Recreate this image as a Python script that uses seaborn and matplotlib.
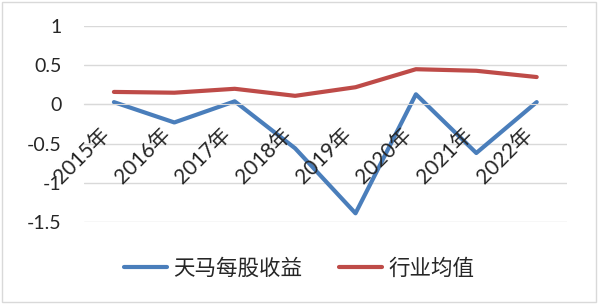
import pandas as pd
import seaborn as sns
import matplotlib.pyplot as plt
from matplotlib.patches import Rectangle

years = ["2015年", "2016年", "2017年", "2018年", "2019年", "2020年", "2021年", "2022年"]
tianma_eps = [0.03, -0.23, 0.04, -0.56, -1.39, 0.13, -0.62, 0.03]
industry_avg = [0.16, 0.15, 0.20, 0.11, 0.22, 0.45, 0.43, 0.35]
series_names = ["天马每股收益", "行业均值"]

df = pd.DataFrame({
    "year": years * 2,
    "value": tianma_eps + industry_avg,
    "series": [series_names[0]] * len(years) + [series_names[1]] * len(years),
})

sns.set_style("white")
plt.rcParams['font.family'] = ['Lato', 'Noto Sans CJK SC', 'DejaVu Sans']

fig = plt.figure(figsize=(5.98, 3.04), dpi=100)
ax = fig.add_axes([0.14, 0.27, 0.808, 0.644])

sns.lineplot(data=df, x="year", y="value", hue="series", sort=False,
             palette=["#4A7EBB", "#BE4B48"], linewidth=3, ax=ax, legend=False)

ax.set_ylim(-1.5, 1)
ax.set_xlim(-0.5, len(years) - 0.5)
ax.set_yticks([1, 0.5, 0, -0.5, -1, -1.5])
ax.set_yticklabels(["1", "0.5", "0", "-0.5", "-1", "-1.5"], fontsize=14)
ax.yaxis.grid(True, color="#D9D9D9", linewidth=1)
ax.set_axisbelow(True)
ax.xaxis.set_zorder(3)  # year labels sit on top of the lines
for s in ["top", "right", "left"]:
    ax.spines[s].set_visible(False)
ax.spines["bottom"].set_position(("data", 0))
ax.spines["bottom"].set_color("#D9D9D9")
ax.tick_params(axis="y", length=0, pad=16)
ax.tick_params(axis="x", length=0, pad=14)
ax.set_xticks(range(len(years)))
ax.set_xticklabels(years, rotation=45, ha="right", va="top", fontsize=15)
ax.set_xlabel("")
ax.set_ylabel("")

handles = [plt.Line2D([], [], color="#4A7EBB", linewidth=3),
           plt.Line2D([], [], color="#BE4B48", linewidth=3)]
fig.legend(handles, series_names, loc="center", bbox_to_anchor=(0.5, 0.118),
           ncol=2, frameon=False, fontsize=15.5, handlelength=2,
           columnspacing=1.7, handletextpad=0.3)

fig.patches.append(Rectangle((0.003, 0.005), 0.994, 0.99, transform=fig.transFigure,
                             fill=False, edgecolor="#D9D9D9", linewidth=1))

fig.savefig("out.png", dpi=100)
